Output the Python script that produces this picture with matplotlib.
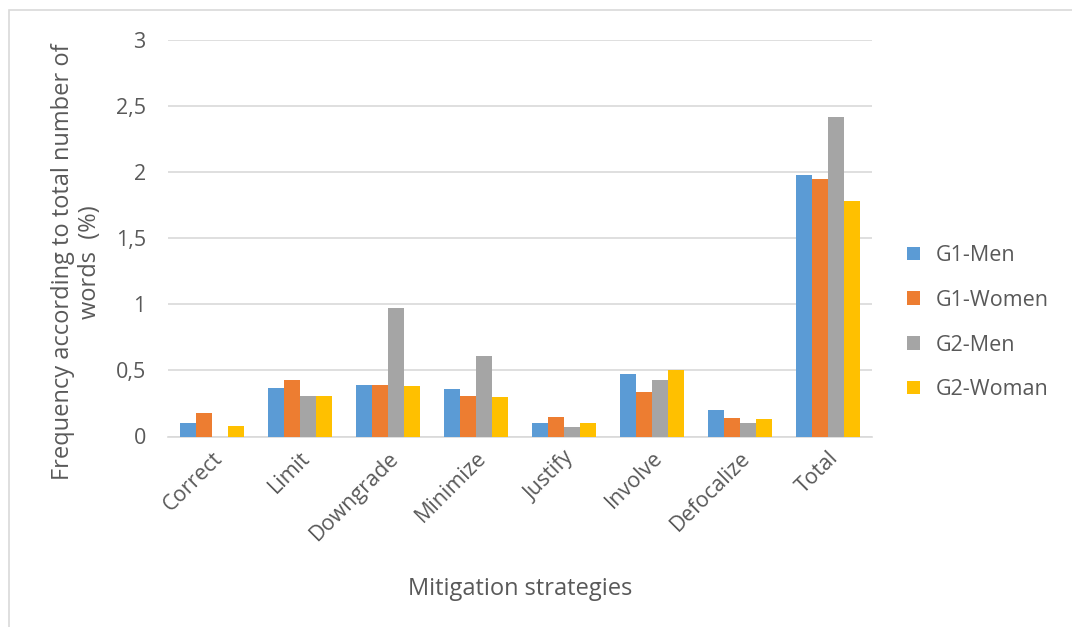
import numpy as np
import matplotlib
matplotlib.use('Agg')
from matplotlib import pyplot as plt
from matplotlib.patches import Rectangle

plt.rcParams['font.family'] = ['Open Sans', 'DejaVu Sans']

categories = ['Correct', 'Limit', 'Downgrade', 'Minimize', 'Justify', 'Involve', 'Defocalize', 'Total']
g1_men = [0.10, 0.37, 0.39, 0.36, 0.10, 0.47, 0.20, 1.98]
g1_women = [0.18, 0.43, 0.39, 0.31, 0.15, 0.34, 0.14, 1.95]
g2_men = [0.00, 0.31, 0.97, 0.61, 0.07, 0.43, 0.10, 2.42]
g2_woman = [0.08, 0.31, 0.38, 0.30, 0.10, 0.50, 0.13, 1.78]
series_names = ['G1-Men', 'G1-Women', 'G2-Men', 'G2-Woman']
colors = ['#5B9BD5', '#ED7D31', '#A5A5A5', '#FFC000']
yticks = [0, 0.5, 1, 1.5, 2, 2.5, 3]
ytick_labels = ['0', '0,5', '1', '1,5', '2', '2,5', '3']

txt = '#595959'
fig = plt.figure(figsize=(10.72, 6.27), dpi=100)
# outer chart frame
fig.patches.append(Rectangle((9/1072, -0.1), 1.2, 1 - 10/627 + 0.1, transform=fig.transFigure,
                             fill=False, edgecolor='#D9D9D9', linewidth=1.2))
ax = fig.add_axes([168/1072, 1-436.5/627, 704/1072, 396.5/627])

x = np.arange(len(categories))
w = 0.182
for i, (vals, name) in enumerate(zip([g1_men, g1_women, g2_men, g2_woman], series_names)):
    ax.bar(x + (i - 1.5)*w, vals, width=w, color=colors[i], label=name, zorder=3)

ax.set_xlim(-0.5, len(categories) - 0.5)
ax.set_ylim(0, 3)
ax.set_yticks(yticks)
ax.set_yticklabels(ytick_labels, fontsize=15.5, color=txt)
ax.grid(axis='y', color='#D9D9D9', linewidth=1.2, zorder=0)
for s in ['top', 'right', 'left']:
    ax.spines[s].set_visible(False)
ax.spines['bottom'].set_color('#D9D9D9')
ax.spines['bottom'].set_linewidth(1.2)
ax.tick_params(axis='both', length=0)
ax.tick_params(axis='y', pad=16)
ax.set_xticks(x)
ax.set_xticklabels(categories, rotation=45, ha='right', va='top', rotation_mode='anchor',
                   fontsize=15.5, color=txt)
ax.tick_params(axis='x', pad=8)

ax.set_ylabel('Frequency according to total number of\nwords  (%)', fontsize=17, color=txt,
              linespacing=1.15)
ax.yaxis.set_label_coords(-0.094, 0.44)
ax.set_xlabel('Mitigation strategies', fontsize=17, color=txt, labelpad=23)

ax.legend(loc='center left', bbox_to_anchor=(1.022, 0.287), frameon=False, fontsize=15.5,
          labelcolor=txt, handlelength=0.6, handleheight=0.6, handletextpad=0.75,
          labelspacing=1.1)

fig.savefig('out.png', dpi=100)
